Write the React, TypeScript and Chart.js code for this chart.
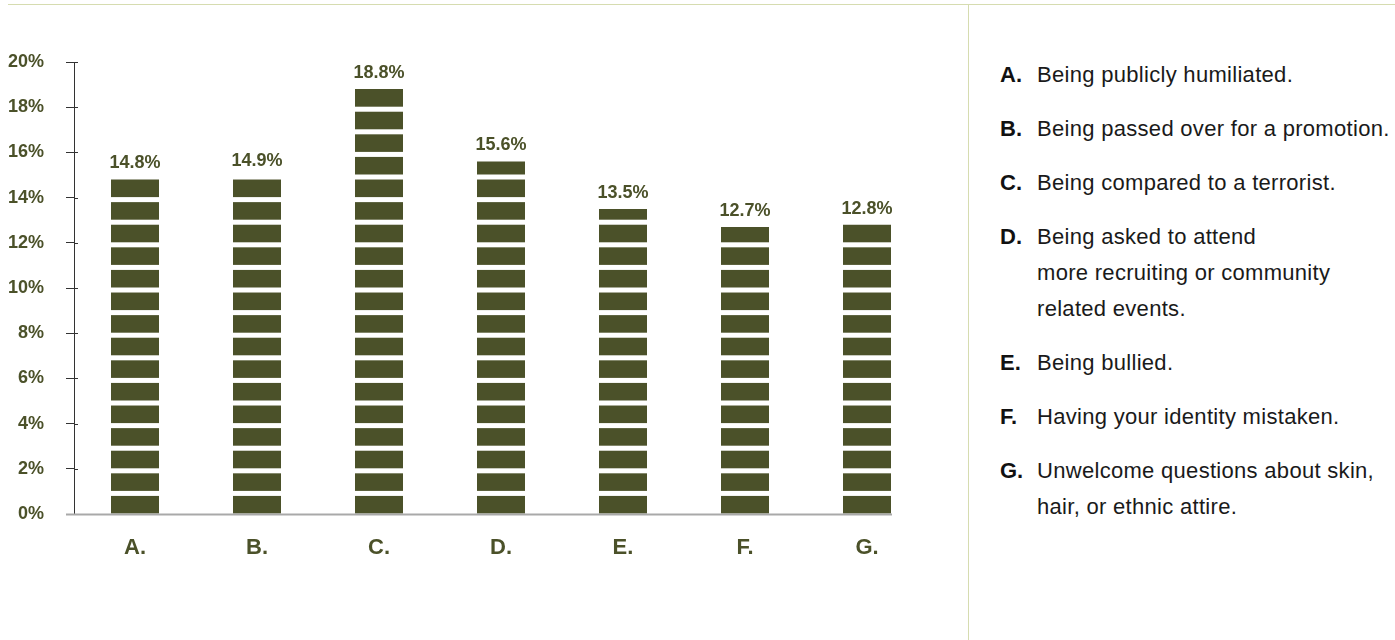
import React, { useEffect, useRef } from 'react';
import { Chart, registerables } from 'chart.js';

Chart.register(...registerables);

const categories = ['A.', 'B.', 'C.', 'D.', 'E.', 'F.', 'G.'];
const values = [14.8, 14.9, 18.8, 15.6, 13.5, 12.7, 12.8];
const valueLabels = ['14.8%', '14.9%', '18.8%', '15.6%', '13.5%', '12.7%', '12.8%'];
const yTicks = [0, 2, 4, 6, 8, 10, 12, 14, 16, 18, 20];

const legendLetters = ['A.', 'B.', 'C.', 'D.', 'E.', 'F.', 'G.'];
const legendTexts: string[][] = [
  ['Being publicly humiliated.'],
  ['Being passed over for a promotion.'],
  ['Being compared to a terrorist.'],
  ['Being asked to attend', 'more recruiting or community', 'related events.'],
  ['Being bullied.'],
  ['Having your identity mistaken.'],
  ['Unwelcome questions about skin,', 'hair, or ethnic attire.'],
];

const OLIVE = '#4b5129';
const FONT = '"Liberation Sans", Arial, Helvetica, sans-serif';

const decorPlugin = {
  id: 'decor',
  afterDatasetsDraw(chart: any) {
    const ctx = chart.ctx as CanvasRenderingContext2D;
    const meta = chart.getDatasetMeta(0);
    const y = chart.scales.y;
    const area = chart.chartArea;
    ctx.save();
    meta.data.forEach((bar: any, i: number) => {
      const v = values[i];
      const w = bar.width;
      const x0 = bar.x - w / 2;
      ctx.fillStyle = '#ffffff';
      for (let k = 0; k + 0.8 < v; k++) {
        const top = y.getPixelForValue(Math.min(k + 1, v));
        const bot = y.getPixelForValue(k + 0.8);
        ctx.fillRect(x0 - 1, top - 0.5, w + 2, bot - top + 0.5);
      }
      ctx.fillStyle = OLIVE;
      ctx.font = `bold 18px ${FONT}`;
      ctx.textAlign = 'center';
      ctx.textBaseline = 'middle';
      ctx.fillText(valueLabels[i], bar.x, bar.y - 16);
    });
    // inner part of y ticks
    ctx.strokeStyle = '#333333';
    ctx.lineWidth = 1;
    yTicks.forEach((t) => {
      const py = Math.round(y.getPixelForValue(t)) + 0.5;
      ctx.beginPath();
      ctx.moveTo(area.left, py);
      ctx.lineTo(area.left + 4, py);
      ctx.stroke();
    });
    // x axis baseline
    const last = meta.data[meta.data.length - 1];
    const startX = area.left - 8;
    const endX = last.x + last.width / 2 + 1;
    ctx.fillStyle = '#a9a9a9';
    ctx.fillRect(startX, y.bottom - 0.5, endX - startX, 2);
    ctx.restore();
  },
};

function BarChart() {
  const ref = useRef<HTMLCanvasElement | null>(null);
  useEffect(() => {
    if (!ref.current) return;
    const chart = new Chart(ref.current, {
      type: 'bar',
      data: {
        labels: categories,
        datasets: [
          {
            data: values,
            backgroundColor: OLIVE,
            borderWidth: 0,
            categoryPercentage: 1,
            barPercentage: 48 / 122,
          },
        ],
      },
      options: {
        responsive: false,
        animation: false,
        devicePixelRatio: 1,
        layout: { padding: { top: 62, left: 0, right: 32, bottom: 0 } },
        plugins: {
          legend: { display: false },
          tooltip: { enabled: false },
          title: { display: false },
        },
        scales: {
          x: {
            grid: { display: false, drawTicks: false },
            border: { display: false },
            ticks: {
              color: OLIVE,
              font: { family: FONT, size: 22, weight: 'bold' },
              padding: 21,
            },
            afterFit: (scale: any) => {
              scale.height = 126;
            },
          },
          y: {
            min: 0,
            max: 20,
            grid: {
              display: true,
              drawOnChartArea: false,
              drawTicks: true,
              tickLength: 8,
              color: '#333333',
            },
            border: { display: true, color: '#333333', width: 1 },
            ticks: {
              stepSize: 2,
              color: OLIVE,
              font: { family: FONT, size: 18, weight: 'bold' },
              padding: 22,
              callback: (v: any) => `${v}%`,
            },
            afterFit: (scale: any) => {
              scale.width = 74;
            },
          },
        },
      },
      plugins: [decorPlugin],
    } as any);
    return () => chart.destroy();
  }, []);
  return (
    <canvas
      ref={ref}
      width={960}
      height={640}
      style={{ position: 'absolute', left: 0, top: 0, width: 960, height: 640 }}
    />
  );
}

export default function App() {
  return (
    <div
      style={{
        position: 'absolute',
        left: 0,
        top: 0,
        width: 1395,
        height: 640,
        overflow: 'hidden',
        background: '#ffffff',
        fontFamily: FONT,
      }}
    >
      <div style={{ position: 'absolute', left: 8, top: 4, width: 1387, height: 1, background: '#d6dcb0' }} />
      <div style={{ position: 'absolute', left: 968, top: 4, width: 1, height: 636, background: '#d6dcb0' }} />
      <BarChart />
      <div style={{ position: 'absolute', left: 1000, top: 57, width: 395 }}>
        {legendLetters.map((letter, i) => (
          <div key={letter} style={{ display: 'flex', marginBottom: 18 }}>
            <div
              style={{
                width: 37,
                flex: '0 0 37px',
                fontWeight: 'bold',
                fontSize: 22,
                lineHeight: '36px',
                color: '#111111',
              }}
            >
              {letter}
            </div>
            <div
              style={{
                fontSize: 22,
                lineHeight: '36px',
                letterSpacing: '0.3px',
                color: '#1a1a1a',
                whiteSpace: 'nowrap',
              }}
            >
              {legendTexts[i].map((line, j) => (
                <div key={j}>{line}</div>
              ))}
            </div>
          </div>
        ))}
      </div>
    </div>
  );
}
